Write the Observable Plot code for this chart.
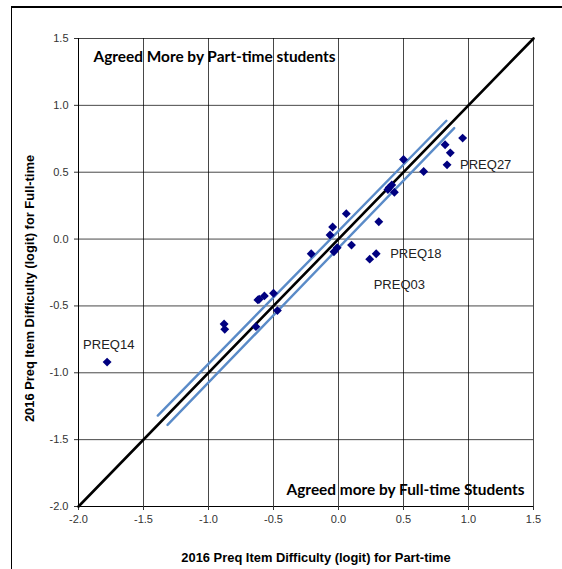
<!DOCTYPE html>
<html>
<head>
<meta charset="utf-8">
<script src="https://cdn.jsdelivr.net/npm/d3@7"></script>
<script src="https://cdn.jsdelivr.net/npm/@observablehq/plot@0.6"></script>
<style>
  body { margin: 0; background: #fff; }
  #wrap { position: relative; width: 562px; height: 569px; overflow: hidden; background: #fff; }
  #frame { position: absolute; left: 11px; top: 6px; width: 620px; height: 620px;
           border-left: 1px solid #000; border-top: 2px solid #000; box-sizing: border-box; }
  #chart { position: absolute; left: 0; top: 0; }
</style>
</head>
<body>
<div id="wrap"><div id="frame"></div><div id="chart"></div></div>
<script>
// Preq item difficulty estimates (logits), part-time vs full-time students
const items = [
  "PREQ14", "", "", "", "", "", "", "", "",
  "", "", "", "", "", "", "", "PREQ03", "PREQ18",
  "", "", "", "", "", "", "", "", "", "", "PREQ27"
];
const partTime = [
  -1.78, -0.88, -0.875, -0.635, -0.62, -0.61, -0.57, -0.50, -0.47,
  -0.21, -0.065, -0.045, 0.06, -0.035, -0.01, 0.10, 0.24, 0.29,
  0.31, 0.39, 0.41, 0.38, 0.43, 0.50, 0.655, 0.82, 0.86, 0.955, 0.835
];
const fullTime = [
  -0.92, -0.635, -0.675, -0.655, -0.455, -0.45, -0.425, -0.405, -0.535,
  -0.11, 0.03, 0.09, 0.19, -0.095, -0.065, -0.045, -0.15, -0.11,
  0.13, 0.385, 0.405, 0.37, 0.35, 0.595, 0.505, 0.705, 0.645, 0.755, 0.555
];

// identity line and the two confidence bands around it
const identityX = [-2.0, 1.5];
const identityY = [-2.0, 1.5];
const upperBandX = [-1.39, 0.83];
const upperBandY = [-1.32, 0.885];
const lowerBandX = [-1.315, 0.89];
const lowerBandY = [-1.39, 0.83];

const tickValues = [-2.0, -1.5, -1.0, -0.5, 0.0, 0.5, 1.0, 1.5];

const points = partTime.map((x, i) => ({ item: items[i], part: x, full: fullTime[i] }));
const seg = (xs, ys) => xs.map((x, i) => ({ x, y: ys[i] }));

const fmt = d => d.toFixed(1);
const labelFont = "'Liberation Sans', Arial, sans-serif";
const noteFont = "Lato, 'Open Sans', sans-serif";

// item label beside its diamond, shifted by a pixel offset
const itemLabel = (name, dx, dy) => Plot.text(points.filter(d => d.item === name), {
  x: "part", y: "full", text: "item", textAnchor: "start", dx, dy,
  fontFamily: labelFont, fontSize: 13, fill: "#222"
});

const chart = Plot.plot({
  width: 562,
  height: 569,
  marginLeft: 78,
  marginRight: 29,
  marginTop: 38,
  marginBottom: 63,
  x: { domain: [-2, 1.5] },
  y: { domain: [-2, 1.5] },
  style: { fontFamily: labelFont, fontSize: "11px", color: "#333", background: "transparent", overflow: "visible" },
  marks: [
    Plot.ruleX(tickValues, { stroke: "#000", strokeOpacity: 0.72 }),
    Plot.ruleY(tickValues, { stroke: "#000", strokeOpacity: 0.72 }),
    Plot.ruleX([-2], { stroke: "#000" }),
    Plot.ruleY([-2], { stroke: "#000" }),
    Plot.axisX({ ticks: tickValues, tickFormat: fmt, tickSize: 4, tickPadding: 5, label: null }),
    Plot.axisY({ ticks: tickValues, tickFormat: fmt, tickSize: 4, tickPadding: 6, label: null }),
    Plot.line(seg(identityX, identityY), { x: "x", y: "y", stroke: "#000", strokeWidth: 2.6 }),
    Plot.line(seg(upperBandX, upperBandY), { x: "x", y: "y", stroke: "#5a8bc8", strokeWidth: 2.4 }),
    Plot.line(seg(lowerBandX, lowerBandY), { x: "x", y: "y", stroke: "#5a8bc8", strokeWidth: 2.4 }),
    Plot.dot(points, { x: "part", y: "full", symbol: "diamond2", r: 4, fill: "#000080", stroke: "none" }),
    itemLabel("PREQ27", 13, 0),
    itemLabel("PREQ18", 14, 0),
    itemLabel("PREQ03", 4, 26),
    itemLabel("PREQ14", -24, -17),
    Plot.text(["Agreed More by Part-time students"], {
      frameAnchor: "top-left", textAnchor: "start", lineAnchor: "middle", dx: 15, dy: 19,
      fontFamily: noteFont, fontWeight: "bold", fontSize: 15.4, fill: "#000" }),
    Plot.text(["Agreed more by Full-time Students"], {
      frameAnchor: "bottom-right", textAnchor: "end", lineAnchor: "middle", dx: -9, dy: -16,
      fontFamily: noteFont, fontWeight: "bold", fontSize: 15.4, fill: "#000" }),
    Plot.text(["2016 Preq Item Difficulty (logit) for Part-time"], {
      frameAnchor: "bottom", textAnchor: "middle", lineAnchor: "middle", dx: 10, dy: 51,
      fontFamily: labelFont, fontWeight: "bold", fontSize: 12.9, fill: "#000" }),
    Plot.text(["2016 Preq Item Difficulty (logit) for Full-time"], {
      frameAnchor: "left", textAnchor: "middle", lineAnchor: "middle", rotate: -90, dx: -49, dy: 16,
      fontFamily: labelFont, fontWeight: "bold", fontSize: 12.9, fill: "#000" })
  ]
});

document.getElementById("chart").appendChild(chart);
</script>
</body>
</html>
